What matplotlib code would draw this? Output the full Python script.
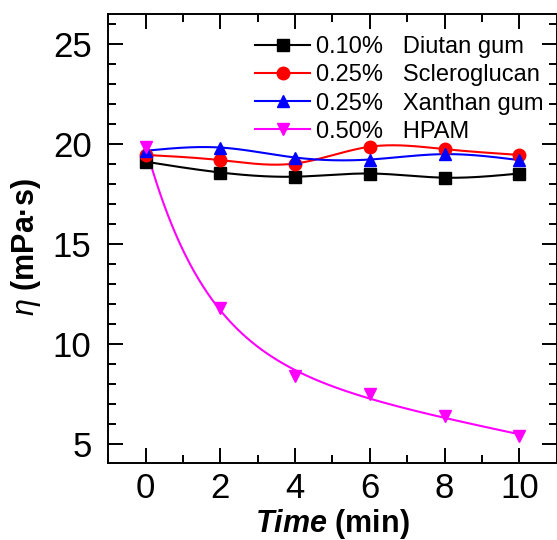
import numpy as np
import matplotlib
matplotlib.use("Agg")
import matplotlib.pyplot as plt
from matplotlib.ticker import MultipleLocator

plt.rcParams['font.family'] = ['Liberation Sans', 'DejaVu Sans']
plt.rcParams['mathtext.fontset'] = 'custom'
plt.rcParams['mathtext.rm'] = 'Liberation Sans'
plt.rcParams['mathtext.it'] = 'Liberation Sans:italic'
plt.rcParams['mathtext.bf'] = 'Liberation Sans:bold'
plt.rcParams['mathtext.bfit'] = 'Liberation Sans:bold:italic'

# ---- data ----
time_min = [0, 2, 4, 6, 8, 10]
diutan = [19.12, 18.58, 18.37, 18.53, 18.32, 18.53]
sclero = [19.46, 19.20, 19.03, 19.87, 19.75, 19.46]
xanthan = [19.67, 19.83, 19.33, 19.23, 19.50, 19.20]
hpam = [19.87, 11.80, 8.38, 7.47, 6.38, 5.38]
labels = ["0.10%   Diutan gum", "0.25%   Scleroglucan",
          "0.25%   Xanthan gum", "0.50%   HPAM"]
colors = ["black", "#ff0000", "#0000ff", "#ff00ff"]
markers = ["s", "o", "^", "v"]


def natural_spline(x, y, xs):
    x = np.asarray(x, float); y = np.asarray(y, float)
    n = len(x)
    h = np.diff(x)
    A = np.zeros((n, n)); r = np.zeros(n)
    A[0, 0] = 1; A[-1, -1] = 1
    for i in range(1, n - 1):
        A[i, i - 1] = h[i - 1]; A[i, i] = 2 * (h[i - 1] + h[i]); A[i, i + 1] = h[i]
        r[i] = 3 * ((y[i + 1] - y[i]) / h[i] - (y[i] - y[i - 1]) / h[i - 1])
    c = np.linalg.solve(A, r)
    b = (y[1:] - y[:-1]) / h - h * (2 * c[:-1] + c[1:]) / 3
    d = (c[1:] - c[:-1]) / (3 * h)
    idx = np.clip(np.searchsorted(x, xs) - 1, 0, n - 2)
    dx = xs - x[idx]
    return y[idx] + b[idx] * dx + c[idx] * dx ** 2 + d[idx] * dx ** 3


def decay_fit(x, y, xs):
    x = np.asarray(x, float); y = np.asarray(y, float)
    best = None
    for k in np.linspace(0.1, 3, 300):
        M = np.column_stack([np.ones_like(x), x, np.exp(-k * x)])
        coef, res, *_ = np.linalg.lstsq(M, y, rcond=None)
        err = np.sum((M @ coef - y) ** 2)
        if best is None or err < best[0]:
            best = (err, k, coef)
    _, k, coef = best
    return coef[0] + coef[1] * xs + coef[2] * np.exp(-k * xs)


fig = plt.figure(figsize=(5.57, 5.40), dpi=100)
ax = fig.add_axes([0.1944, 0.1431, 0.805, 0.8304])

LW = 1.5
xs = np.linspace(0, 10, 300)
series = [diutan, sclero, xanthan, hpam]
for i, ys in enumerate(series):
    if i < 3:
        curve = natural_spline(time_min, ys, xs)
    else:
        curve = decay_fit(time_min, ys, xs)
    ax.plot(xs, curve, color=colors[i], lw=LW, zorder=2)
    ax.plot(time_min, ys, linestyle='none', marker=markers[i], color=colors[i],
            markersize=9 if markers[i] != 's' else 8.5, zorder=3)

# legend handles
handles = [plt.Line2D([], [], color=colors[i], lw=LW, marker=markers[i],
                      markersize=9 if markers[i] != 's' else 8.5) for i in range(4)]
ax.legend(handles, labels, loc='upper left', bbox_to_anchor=(0.328, 0.951),
          frameon=False, fontsize=17, handlelength=2.3, handletextpad=0.25,
          labelspacing=0.26, borderpad=0, borderaxespad=0)

ax.set_xlim(-1, 11)
ax.set_ylim(4.05, 26.5)
ax.xaxis.set_major_locator(MultipleLocator(2))
ax.xaxis.set_minor_locator(MultipleLocator(1))
ax.yaxis.set_major_locator(MultipleLocator(5))
ax.yaxis.set_minor_locator(MultipleLocator(1))
ax.tick_params(which='both', direction='in', top=True, right=True, width=1.4)
ax.tick_params(which='major', length=10.5, labelsize=25)
ax.tick_params(axis='x', which='major', pad=7)
ax.tick_params(axis='y', which='major', pad=12)
ax.tick_params(which='minor', length=5.5)
for s in ax.spines.values():
    s.set_linewidth(1.4)

ax.set_xlabel(r'$\mathbfit{Time}$ (min)', fontsize=22, fontweight='bold', labelpad=1)
ax.set_ylabel(r'$\eta$ (mPa·s)', fontsize=22, fontweight='bold')
ax.yaxis.set_label_coords(-0.145, 0.48)

fig.savefig("out.png", dpi=100)
